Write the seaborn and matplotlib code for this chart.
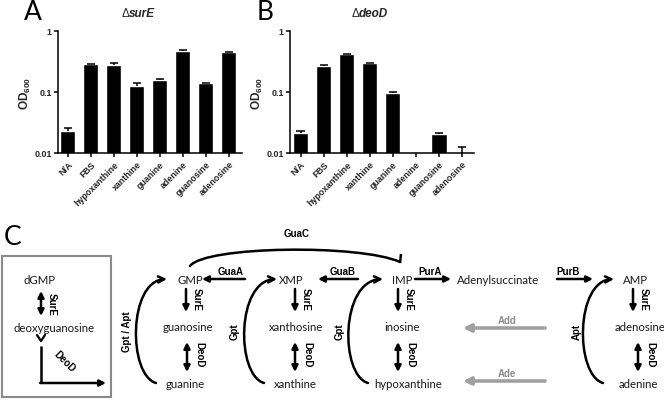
import numpy as np
import pandas as pd
import matplotlib
matplotlib.use("Agg")
import matplotlib.pyplot as plt
import seaborn as sns
from matplotlib.patches import Rectangle, FancyArrowPatch
from matplotlib.path import Path

# ---- data (OD600) ----
conditions = ['N/A', 'FBS', 'hypoxanthine', 'xanthine', 'guanine', 'adenine', 'guanosine', 'adenosine']
od_sure = [0.023, 0.284, 0.277, 0.127, 0.159, 0.476, 0.140, 0.447]
err_sure = [0.0024, 0.004, 0.019, 0.015, 0.003, 0.005, 0.002, 0.004]
od_deod = [0.021, 0.270, 0.420, 0.300, 0.095, np.nan, 0.0205, 0.009]
err_deod = [0.002, 0.003, 0.004, 0.004, 0.004, np.nan, 0.0005, 0.0034]

# ---- pathway diagram ----
nodes = {
    'dGMP': (40, 281), 'deoxyguanosine': (54, 329),
    'GMP': (190, 281), 'guanosine': (188, 328), 'guanine': (185, 385),
    'XMP': (291, 281), 'xanthosine': (296, 328), 'xanthine': (295, 385),
    'IMP': (402, 281), 'inosine': (402, 328), 'hypoxanthine': (408, 385),
    'Adenylsuccinate': (498, 281),
    'AMP': (635, 281), 'adenosine': (640, 328), 'adenine': (638, 385),
}

sns.set_theme(style="white")
plt.rcParams['mathtext.fontset'] = 'custom'
plt.rcParams['mathtext.bf'] = 'Liberation Sans:bold'
plt.rcParams['mathtext.rm'] = 'Liberation Sans:bold'

W, H = 664, 402
fig = plt.figure(figsize=(W / 100, H / 100), dpi=100)

arial = 'Liberation Sans'
calibri = 'Lato'


def bar_panel(rect, values, errors, xlim):
    ax = fig.add_axes(rect)
    df = pd.DataFrame({'condition': conditions, 'od': values})
    sns.barplot(data=df, x='condition', y='od', order=conditions, color='black',
                width=0.66, errorbar=None, ax=ax, saturation=1)
    ax.set_yscale('log')
    pos = np.arange(len(conditions))
    v = np.array(values, dtype=float)
    top = v + np.array(errors, dtype=float)
    # upper error only, cap at the top
    ax.vlines(pos, v, top, color='black', lw=1.1, zorder=3)
    ax.hlines(top, pos - 0.18, pos + 0.18, color='black', lw=1.1, zorder=3)
    ax.set_ylim(0.01, 1)
    ax.set_xlim(*xlim)
    ax.set_yticks([0.01, 0.1, 1])
    ax.set_yticklabels(['0.01', '0.1', '1'])
    ax.yaxis.set_minor_locator(matplotlib.ticker.NullLocator())
    ax.set_xticks(pos)
    ax.set_xticklabels(conditions, rotation=45, ha='right', rotation_mode='anchor')
    for lab in ax.get_xticklabels() + ax.get_yticklabels():
        lab.set_fontfamily(arial)
        lab.set_fontweight('bold')
        lab.set_fontsize(6.4)
    ax.tick_params(axis='both', which='major', length=3, width=1.1, direction='out',
                   pad=1.5, color='black', bottom=True, left=True)
    for s in ['top', 'right']:
        ax.spines[s].set_visible(False)
    for s in ['left', 'bottom']:
        ax.spines[s].set_linewidth(1.1)
        ax.spines[s].set_color('black')
    ax.set_xlabel('')
    ax.set_ylabel(r'$\mathbf{OD}_{\mathbf{600}}$', fontsize=8.5, labelpad=1)
    ax.set_facecolor('none')
    return ax


def fx(px):
    return px / W


def fy(py):
    return 1 - py / H


# diagram canvas in pixel coords
axc = fig.add_axes([0, 0, 1, 1])
axc.set_xlim(0, W)
axc.set_ylim(H, 0)
axc.axis('off')

axA = bar_panel([fx(58), fy(154), fx(184), (154 - 32) / H], od_sure, err_sure, (-0.43, 7.57))
axB = bar_panel([fx(290), fy(154), fx(184), (154 - 32) / H], od_deod, err_deod, (-0.46, 7.52))

# panel letters and titles
for lab, x, y in [('A', 33, 13), ('B', 265, 13), ('C', 13, 238)]:
    axc.text(x, y, lab, fontsize=19, family=calibri, ha='center', va='center', color='black')
for x, gene in [(129, 'surE'), (359, 'deoD')]:
    axc.text(x, 14, '\u0394', fontsize=8.5, family=arial, ha='right', va='center')
    axc.text(x, 14, gene, fontsize=8.5, family=arial, fontweight='bold', fontstyle='italic',
             ha='left', va='center')

# box around deoxy pathway
axc.add_patch(Rectangle((2, 257), 109, 141, fill=False, edgecolor='#8a8a8a', lw=1.5))

for name, (x, y) in nodes.items():
    axc.text(x, y, name, fontsize=8.2, family=calibri, ha='center', va='center', color='#1a1a1a')


def arrow(x0, y0, x1, y1, style='-|>', color='black', lw=1.8, ms=9, conn='arc3'):
    axc.annotate('', xy=(x1, y1), xytext=(x0, y0),
                 arrowprops=dict(arrowstyle=style, color=color, lw=lw, mutation_scale=ms,
                                 shrinkA=0, shrinkB=0, connectionstyle=conn))


def curve(pts, style='->', lw=1.8, ms=11):
    codes = [Path.MOVETO, Path.CURVE4, Path.CURVE4, Path.CURVE4]
    p = FancyArrowPatch(path=Path(pts, codes), arrowstyle=style, mutation_scale=ms,
                        lw=lw, color='black', shrinkA=0, shrinkB=0)
    axc.add_patch(p)


def enz(x, y, s, rot=0, color='black'):
    axc.text(x, y, s, fontsize=7, family=arial, fontweight='bold', ha='center', va='center',
             rotation=rot, rotation_mode='anchor', color=color)


# vertical SurE / DeoD arrows
for x in [186, 295, 398, 633]:
    arrow(x, 290, x, 313)
    enz(x + 11, 299, 'SurE', rot=-90)
for x in [187, 295, 398, 638]:
    arrow(x, 343, x, 373, style='<|-|>')
    enz(x + 12, 355, 'DeoD', rot=-90)

# box arrows
arrow(41, 292, 41, 317, style='<|-|>')
enz(52, 304, 'SurE', rot=-90)
axc.plot([37, 41, 45], [336, 342, 336], color='black', lw=1.6)
axc.plot([41, 41], [347, 384], color='black', lw=1.8, solid_capstyle='butt')
arrow(40.2, 384, 106, 384)
enz(64, 362, 'DeoD', rot=-45)

# horizontal arrows
arrow(245, 280, 202, 280)
enz(231, 272, 'GuaA')
arrow(358, 280, 318, 280)
enz(343, 272, 'GuaB')
arrow(415, 280, 451, 280)
enz(430, 272, 'PurA')
arrow(557, 280, 593, 280)
enz(568, 272, 'PurB')

# salvage curves (bottom base -> top nucleotide)
for (xb, yb), (xt, yt), lab, lx in [((156, 384), (167, 280), 'Gpt / Apt', 127),
                                     ((264, 384), (277, 280), 'Gpt', 235),
                                     ((368, 384), (383, 280), 'Gpt', 340),
                                     ((603, 384), (614, 280), 'Apt', 577)]:
    c = min(xb, xt) - 28
    curve([(xb, yb), (c, yb - 8), (c, yt + 2), (xt, yt)])
    enz(lx, 332, lab, rot=90)

# GuaC arc ending in a short bar at IMP
curve([(190, 267), (205, 247), (360, 245), (400, 263)], style='-')
axc.plot([400, 401], [264, 255], color='black', lw=1.8, solid_capstyle='butt')
enz(297, 234, 'GuaC')

# gray Add / Ade arrows
for y, lab in [(329, 'Add'), (382, 'Ade')]:
    arrow(545, y, 463, y, color='#a0a0a0', lw=2.6, ms=11)
    enz(507, y - 8, lab, color='#8c8c8c')

fig.savefig('out.png', dpi=100)
